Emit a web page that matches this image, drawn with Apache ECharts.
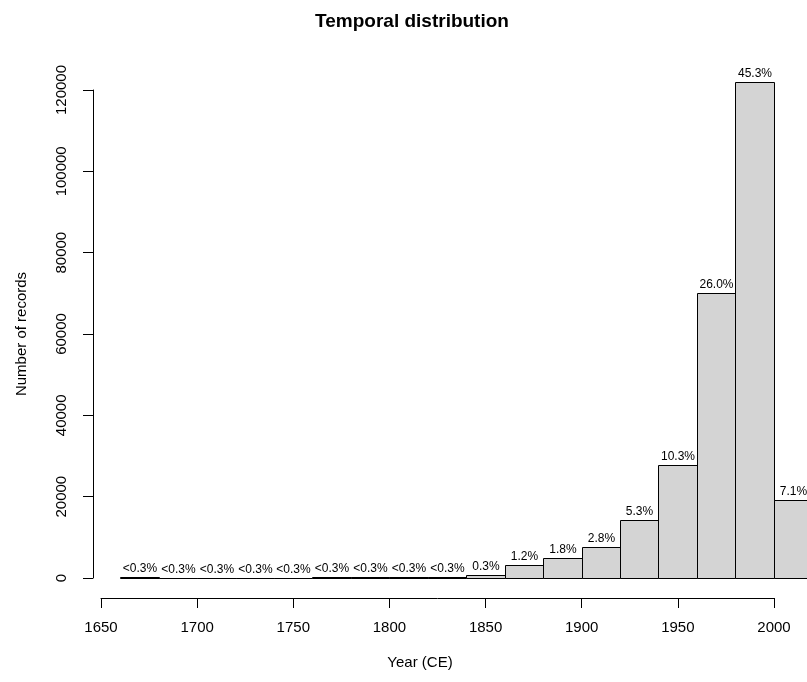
<!DOCTYPE html>
<html>
<head>
<meta charset="utf-8">
<script src="https://cdn.jsdelivr.net/npm/echarts@6/dist/echarts.min.js"></script>
<style>
  html, body { margin: 0; padding: 0; background: #fff; }
  #chart { width: 807px; height: 682px; }
</style>
</head>
<body>
<div id="chart"></div>
<script>
// histogram bins (20-year wide), counts and the percent labels drawn on top
var binStarts = [1660, 1680, 1700, 1720, 1740, 1760, 1780, 1800, 1820, 1840,
                 1860, 1880, 1900, 1920, 1940, 1960, 1980, 2000];
var binWidth = 20;
var counts = [200, 80, 90, 100, 110, 250, 250, 150, 300, 800,
              3230, 4840, 7530, 14260, 27700, 70000, 121900, 19100];
var pctLabels = ['<0.3%', '<0.3%', '<0.3%', '<0.3%', '<0.3%', '<0.3%', '<0.3%', '<0.3%', '<0.3%', '0.3%',
                 '1.2%', '1.8%', '2.8%', '5.3%', '10.3%', '26.0%', '45.3%', '7.1%'];

var font = 'Liberation Sans, Arial, Helvetica, sans-serif';

var data = binStarts.map(function (s, i) {
    return [s, s + binWidth, counts[i]];
});

var dom = document.getElementById('chart');
var myChart = echarts.init(dom);

var plain = function (v) { return String(v); };

var option = {
    animation: false,
    backgroundColor: '#fff',
    textStyle: { fontFamily: font },
    graphic: [
        {
            type: 'text',
            x: 412, y: 22,
            style: {
                text: 'Temporal distribution',
                font: 'bold 19px ' + font,
                fill: '#000',
                align: 'center',
                verticalAlign: 'middle'
            }
        },
        {
            type: 'text',
            x: 420, y: 663,
            style: {
                text: 'Year (CE)',
                font: '15px ' + font,
                fill: '#000',
                align: 'center',
                verticalAlign: 'middle'
            }
        }
    ],
    grid: [
        // bars
        { left: 101, width: 706, top: 90, height: 488 },
        // x axis line only
        { left: 101, width: 673, top: 560, height: 38 },
        // y axis line only
        { left: 93, width: 10, top: 90, height: 488 }
    ],
    xAxis: [
        { gridIndex: 0, type: 'value', min: 1650, max: 1650 + 706 / (672.7 / 350), show: false },
        {
            gridIndex: 1, type: 'value', min: 1650, max: 2000, interval: 50,
            axisLine: { show: true, lineStyle: { color: '#000', width: 1 } },
            axisTick: { show: true, length: 10, lineStyle: { color: '#000' } },
            axisLabel: { fontSize: 15, color: '#000', margin: 22, formatter: plain },
            splitLine: { show: false }
        },
        { gridIndex: 2, type: 'value', show: false }
    ],
    yAxis: [
        { gridIndex: 0, type: 'value', min: 0, max: 120000, show: false },
        { gridIndex: 1, type: 'value', show: false },
        {
            gridIndex: 2, type: 'value', min: 0, max: 120000, interval: 20000,
            name: 'Number of records', nameLocation: 'middle', nameGap: 64,
            nameTextStyle: { fontSize: 15, color: '#000' },
            axisLine: { show: true, lineStyle: { color: '#000', width: 1 } },
            axisTick: { show: true, length: 10, lineStyle: { color: '#000' } },
            axisLabel: { fontSize: 15, color: '#000', margin: 24, rotate: 90, formatter: plain },
            splitLine: { show: false }
        }
    ],
    series: [
        {
            type: 'custom',
            xAxisIndex: 0,
            yAxisIndex: 0,
            clip: false,
            data: data,
            renderItem: function (params, api) {
                var p0 = api.coord([api.value(0), 0]);
                var p1 = api.coord([api.value(1), api.value(2)]);
                var x = Math.round(p0[0]) + 0.5;
                var w = Math.round(p1[0]) - Math.round(p0[0]);
                var yTop = Math.round(p1[1]) + 0.5;
                var yBot = Math.round(p0[1]) + 0.5;
                return {
                    type: 'group',
                    children: [
                        {
                            type: 'rect',
                            shape: { x: x, y: yTop, width: w, height: yBot - yTop },
                            style: { fill: '#d4d4d4', stroke: '#000', lineWidth: 1 }
                        },
                        {
                            type: 'text',
                            style: {
                                text: pctLabels[params.dataIndex],
                                x: x + w / 2,
                                y: yTop - 3,
                                align: 'center',
                                verticalAlign: 'bottom',
                                font: '12px ' + font,
                                fill: '#000'
                            }
                        }
                    ]
                };
            }
        }
    ]
};

myChart.setOption(option, true);
</script>
</body>
</html>
